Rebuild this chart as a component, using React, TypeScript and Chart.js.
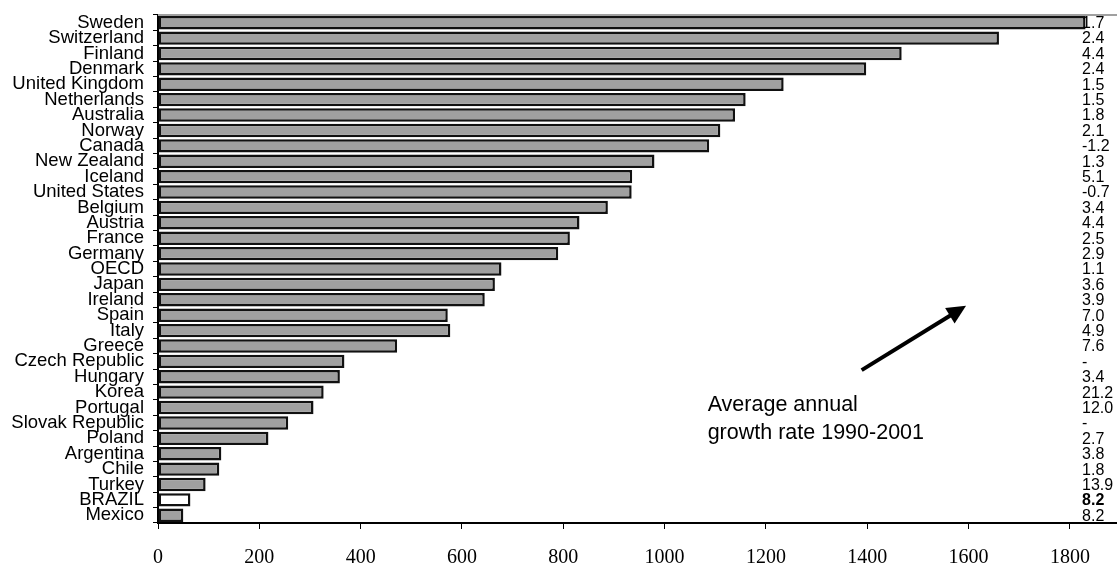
import React, { useEffect, useRef } from "react";
import { Chart, registerables } from "chart.js";

Chart.register(...registerables);

const countries = [
  "Sweden", "Switzerland", "Finland", "Denmark", "United Kingdom", "Netherlands",
  "Australia", "Norway", "Canada", "New Zealand", "Iceland", "United States",
  "Belgium", "Austria", "France", "Germany", "OECD", "Japan", "Ireland", "Spain",
  "Italy", "Greece", "Czech Republic", "Hungary", "Korea", "Portugal",
  "Slovak Republic", "Poland", "Argentina", "Chile", "Turkey", "BRAZIL", "Mexico",
];

const values = [
  1831, 1660, 1468, 1398, 1235, 1160, 1139, 1110, 1088, 980, 936, 935,
  888, 832, 813, 790, 678, 665, 645, 572, 577, 472, 368, 359, 327, 307,
  257, 218, 125, 121, 94, 64, 50,
];

const growthRates = [
  "1.7", "2.4", "4.4", "2.4", "1.5", "1.5", "1.8", "2.1", "-1.2", "1.3", "5.1", "-0.7",
  "3.4", "4.4", "2.5", "2.9", "1.1", "3.6", "3.9", "7.0", "4.9", "7.6", "-", "3.4",
  "21.2", "12.0", "-", "2.7", "3.8", "1.8", "13.9", "8.2", "8.2",
];

const xTickValues = [0, 200, 400, 600, 800, 1000, 1200, 1400, 1600, 1800];
const highlighted = "BRAZIL";
const annotationLines = ["Average annual", "growth rate 1990-2001"];

export default function App() {
  const canvasRef = useRef<HTMLCanvasElement | null>(null);

  useEffect(() => {
    const canvas = canvasRef.current;
    if (!canvas) return;

    const overlay = {
      id: "overlay",
      afterDatasetsDraw(chart: any) {
        const ctx = chart.ctx;
        const xs = chart.scales.x;
        const ys = chart.scales.y;
        const area = chart.chartArea;
        ctx.save();
        // top border of plot area
        ctx.strokeStyle = "#a0a0a0";
        ctx.lineWidth = 2;
        ctx.beginPath();
        ctx.moveTo(area.left, area.top);
        ctx.lineTo(area.right, area.top);
        ctx.stroke();

        // growth rate column
        ctx.fillStyle = "#000";
        ctx.textAlign = "left";
        ctx.textBaseline = "middle";
        const gx = xs.getPixelForValue(1824);
        growthRates.forEach((g, i) => {
          const bold = countries[i] === highlighted;
          ctx.font = (bold ? "bold " : "") + "16px 'Liberation Sans', Arial, sans-serif";
          ctx.fillText(g, gx, ys.getPixelForValue(i) + 1);
        });

        // annotation text
        ctx.font = "21.5px 'Liberation Sans', Arial, sans-serif";
        const ax = xs.getPixelForValue(1085);
        ctx.fillText(annotationLines[0], ax, ys.getPixelForValue(24.85));
        ctx.fillText(annotationLines[1], ax, ys.getPixelForValue(26.65));

        // arrow
        const x1 = xs.getPixelForValue(1389);
        const y1 = ys.getPixelForValue(22.57);
        const x2 = xs.getPixelForValue(1595);
        const y2 = ys.getPixelForValue(18.39);
        const ang = Math.atan2(y2 - y1, x2 - x1);
        const headLen = 19;
        const headW = 9;
        const bx = x2 - headLen * Math.cos(ang);
        const by = y2 - headLen * Math.sin(ang);
        ctx.strokeStyle = "#000";
        ctx.lineWidth = 4;
        ctx.lineCap = "butt";
        ctx.beginPath();
        ctx.moveTo(x1, y1);
        ctx.lineTo(bx + 2 * Math.cos(ang), by + 2 * Math.sin(ang));
        ctx.stroke();
        ctx.fillStyle = "#000";
        ctx.beginPath();
        ctx.moveTo(x2, y2);
        ctx.lineTo(bx + headW * Math.sin(ang), by - headW * Math.cos(ang));
        ctx.lineTo(bx - headW * Math.sin(ang), by + headW * Math.cos(ang));
        ctx.closePath();
        ctx.fill();
        ctx.restore();
      },
    };

    const chart = new Chart(canvas, {
      type: "bar",
      data: {
        labels: countries,
        datasets: [
          {
            data: values,
            backgroundColor: countries.map((c) => (c === highlighted ? "#ffffff" : "#a0a0a0")),
            borderColor: "#111111",
            borderWidth: 2.5,
            borderSkipped: false,
            barPercentage: 0.87,
            categoryPercentage: 1,
          },
        ],
      },
      options: {
        indexAxis: "y",
        animation: false,
        responsive: true,
        maintainAspectRatio: false,
        layout: { padding: { top: 15, right: 0, left: 0, bottom: 0 } },
        plugins: {
          legend: { display: false },
          tooltip: { enabled: false },
          title: { display: false },
        },
        scales: {
          x: {
            type: "linear",
            min: 0,
            max: 1893,
            afterBuildTicks: (scale: any) => {
              scale.ticks = xTickValues.map((v) => ({ value: v }));
            },
            afterFit: (scale: any) => {
              scale.height = 40;
              scale.paddingRight = 0;
            },
            grid: {
              drawOnChartArea: false,
              drawTicks: true,
              tickLength: 6,
              color: "#000",
              tickColor: "#000",
            },
            border: { display: true, color: "#000", width: 2 },
            ticks: {
              color: "#000",
              padding: 17,
              maxRotation: 0,
              autoSkip: false,
              callback: (v: any) => String(v),
              font: { family: "'Liberation Serif', 'Times New Roman', serif", size: 20 },
            },
          },
          y: {
            type: "category",
            afterFit: (scale: any) => {
              scale.width = 158;
              scale.paddingTop = 0;
              scale.paddingBottom = 0;
            },
            grid: {
              drawOnChartArea: false,
              drawTicks: true,
              tickLength: 5,
              offset: true,
              color: "#000",
              tickColor: "#000",
            },
            border: { display: true, color: "#000", width: 2 },
            ticks: {
              color: "#000",
              padding: 9,
              autoSkip: false,
              font: { family: "'Liberation Sans', Arial, sans-serif", size: 18.5 },
            },
          },
        },
      },
      plugins: [overlay],
    } as any);

    return () => {
      chart.destroy();
    };
  }, []);

  return (
    <div style={{ position: "absolute", left: 0, top: 0, width: 1117, height: 563, background: "#fff" }}>
      <canvas ref={canvasRef} />
    </div>
  );
}
